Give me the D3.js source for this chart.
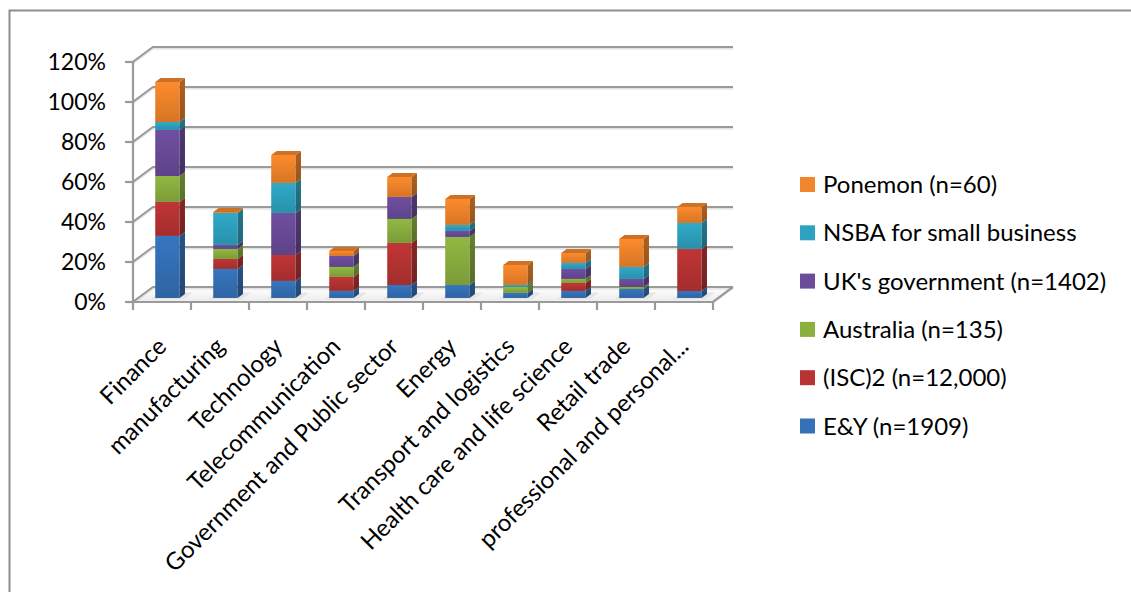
<!DOCTYPE html>
<html>
<head>
<meta charset="utf-8">
<script src="https://cdn.jsdelivr.net/npm/d3@7"></script>
<style>
  html, body { margin: 0; padding: 0; background: #fff; }
  svg { display: block; }
  text { font-family: Lato, "Open Sans", sans-serif; fill: #000; }
</style>
</head>
<body>
<svg id="chart" width="1131" height="592"></svg>
<script>
// Industry categories along the floor
const categories = [
  "Finance", "manufacturing", "Technology", "Telecommunication",
  "Government and Public sector", "Energy", "Transport and logistics",
  "Health care and life science", "Retail trade", "professional and personal..."
];

// Survey sources, stacked bottom to top
const seriesNames = [
  "E&Y (n=1909)", "(ISC)2 (n=12,000)", "Australia (n=135)",
  "UK's government (n=1402)", "NSBA for small business", "Ponemon (n=60)"
];

// Percent of respondents per industry, one array per source
const eyValues        = [31, 14.5, 8.5, 3.5, 6.5, 6.5, 2.5, 3.5, 4.5, 3.5];
const iscValues       = [17, 5, 13, 7, 21, 0, 0, 4, 0, 21];
const australiaValues = [13, 5, 0, 5, 12, 24, 3, 2, 1, 0];
const ukValues        = [23, 2, 21, 5.5, 11, 3, 0, 5, 4, 0];
const nsbaValues      = [4, 16, 15, 0, 0, 3, 1, 3, 6, 13];
const ponemonValues   = [20, 0.5, 14, 2.5, 10, 13, 10, 5, 14, 8];

const yTicks = [0, 20, 40, 60, 80, 100, 120];
const seriesColors = ["#3471b8", "#b93333", "#8bb03f", "#6a4c9a", "#2ea3c1", "#f2852a"];

const seriesValues = [eyValues, iscValues, australiaValues, ukValues, nsbaValues, ponemonValues];

// Rows for the stack layout
const rows = categories.map((c, i) => {
  const r = { category: c };
  seriesNames.forEach((s, k) => { r[s] = seriesValues[k][i]; });
  return r;
});
const stacked = d3.stack().keys(seriesNames)(rows);

const svg = d3.select("#chart");

// Outer chart frame
svg.append("path")
  .attr("d", "M9.5,600 L9.5,10.5 L1140,10.5")
  .attr("fill", "none").attr("stroke", "#8e8e8e").attr("stroke-width", 2);

// Front plane scales plus an oblique depth offset for the 3D look
const x = d3.scaleBand().domain(categories).range([133, 713]).padding(0);
const y = d3.scaleLinear().domain([0, 120]).range([302, 62]);
const DEPTH_X = 20, DEPTH_Y = 15;
const proj = (px, v, z) => [px + z * DEPTH_X, y(v) - z * DEPTH_Y];

const barFrac = 0.42;          // bar width as a share of the category step
const zFront = 0.27, zBack = 0.54;

const defs = svg.append("defs");

// Floor
const floorG = defs.append("linearGradient").attr("id", "floorFill")
  .attr("x1", 0).attr("y1", 0).attr("x2", 0).attr("y2", 1);
floorG.append("stop").attr("offset", 0).attr("stop-color", "#ffffff");
floorG.append("stop").attr("offset", 1).attr("stop-color", "#ececec");

const x0 = x.range()[0], x1 = x.range()[1];
const floorPts = [proj(x0, 0, 0), proj(x1, 0, 0), proj(x1, 0, 1), proj(x0, 0, 1)];
svg.append("polygon")
  .attr("points", floorPts.map(p => p.join(",")).join(" "))
  .attr("fill", "url(#floorFill)");

// Back wall and side wall gridlines
const grid = svg.append("g");
yTicks.forEach(t => {
  const a = proj(x0, t, 0), b = proj(x0, t, 1), c = proj(x1, t, 1);
  grid.append("path")
    .attr("d", `M${a[0]},${a[1]} L${b[0]},${b[1]} L${c[0]},${c[1]}`)
    .attr("fill", "none").attr("stroke", "#9a9a9a").attr("stroke-width", 2.2);
  grid.append("path")
    .attr("d", `M${a[0]},${a[1] + 1.8} L${b[0]},${b[1] + 1.8} L${c[0]},${c[1] + 1.8}`)
    .attr("fill", "none").attr("stroke", "#dcdcdc").attr("stroke-width", 1.2);
});

// Right floor edge
{
  const a = proj(x1, 0, 0), b = proj(x1, 0, 1);
  svg.append("line").attr("x1", a[0]).attr("y1", a[1]).attr("x2", b[0]).attr("y2", b[1])
    .attr("stroke", "#9a9a9a").attr("stroke-width", 2.2);
}

// Gradients per series
seriesColors.forEach((col, k) => {
  const g = defs.append("linearGradient").attr("id", "front" + k)
    .attr("x1", 0).attr("y1", 0).attr("x2", 0).attr("y2", 1);
  g.append("stop").attr("offset", 0).attr("stop-color", d3.color(col).brighter(0.12));
  g.append("stop").attr("offset", 1).attr("stop-color", d3.color(col).darker(0.35));
  const s = defs.append("linearGradient").attr("id", "side" + k)
    .attr("x1", 0).attr("y1", 0).attr("x2", 0).attr("y2", 1);
  s.append("stop").attr("offset", 0).attr("stop-color", d3.color(col).darker(0.9));
  s.append("stop").attr("offset", 1).attr("stop-color", d3.color(col).darker(1.3));
});

// Bar shadows on the floor
const shadowG = svg.append("g");
categories.forEach(c => {
  const bw = x.bandwidth() * barFrac;
  const left = x(c) + (x.bandwidth() - bw) / 2;
  const p = [proj(left - 3, 0, zFront - 0.08), proj(left + bw + 6, 0, zFront - 0.08),
             proj(left + bw + 6, 0, zBack + 0.1), proj(left - 3, 0, zBack + 0.1)];
  shadowG.append("polygon").attr("points", p.map(q => q.join(",")).join(" "))
    .attr("fill", "#d8d8d8").attr("opacity", 0.55);
});

// Bars: front face, side face, and a top cap on the highest segment
const barsG = svg.append("g");
const topIndex = categories.map((c, i) => {
  let last = -1;
  stacked.forEach((layer, k) => { if (layer[i][1] - layer[i][0] > 0) last = k; });
  return last;
});

stacked.forEach((layer, k) => {
  layer.forEach((d, i) => {
    if (d[1] - d[0] <= 0) return;
    const c = categories[i];
    const bw = x.bandwidth() * barFrac;
    const left = x(c) + (x.bandwidth() - bw) / 2;
    const right = left + bw;
    const g = barsG.append("g");
    const f = [proj(left, d[0], zFront), proj(right, d[0], zFront), proj(right, d[1], zFront), proj(left, d[1], zFront)];
    g.append("polygon").attr("points", f.map(q => q.join(",")).join(" "))
      .attr("fill", `url(#front${k})`);
    const s = [proj(right, d[0], zFront), proj(right, d[0], zBack), proj(right, d[1], zBack), proj(right, d[1], zFront)];
    g.append("polygon").attr("points", s.map(q => q.join(",")).join(" "))
      .attr("fill", `url(#side${k})`);
    if (k === topIndex[i]) {
      const t = [proj(left, d[1], zFront), proj(right, d[1], zFront), proj(right, d[1], zBack), proj(left, d[1], zBack)];
      g.append("polygon").attr("points", t.map(q => q.join(",")).join(" "))
        .attr("fill", d3.color(seriesColors[k]).darker(0.45));
    }
  });
});

// Front axes: vertical value axis and category axis with ticks
const axisG = svg.append("g").attr("stroke", "#9a9a9a").attr("stroke-width", 2.2).attr("fill", "none");
axisG.append("line").attr("x1", x0).attr("x2", x0).attr("y1", y(0)).attr("y2", y(120));
axisG.append("line").attr("x1", x0).attr("x2", x1).attr("y1", y(0)).attr("y2", y(0));
yTicks.forEach(t => {
  axisG.append("line").attr("x1", x0 - 8).attr("x2", x0).attr("y1", y(t)).attr("y2", y(t));
});
categories.concat([null]).forEach((c, i) => {
  const px = c === null ? x1 : x(c);
  axisG.append("line").attr("x1", px).attr("x2", px).attr("y1", y(0)).attr("y2", y(0) + 8);
});

// Value tick labels
svg.append("g").selectAll("text").data(yTicks).join("text")
  .attr("x", 106).attr("y", d => y(d)).attr("dy", "0.35em")
  .attr("text-anchor", "end").attr("font-size", 23)
  .text(d => d + "%");

// Category labels, rotated
svg.append("g").selectAll("text").data(categories).join("text")
  .attr("transform", d => `translate(${x(d) + x.bandwidth() / 2 + 6},${y(0) + 46}) rotate(-45)`)
  .attr("text-anchor", "end").attr("font-size", 24)
  .text(d => d);

// Legend, top entry is the top of the stack
const legendKeys = seriesNames.slice().reverse();
const ly = d3.scalePoint().domain(legendKeys).range([184.5, 426]);
const legend = svg.append("g").selectAll("g").data(legendKeys).join("g")
  .attr("transform", d => `translate(800,${ly(d)})`);
legend.append("rect").attr("x", 0).attr("y", -7.5).attr("width", 15).attr("height", 15)
  .attr("fill", d => seriesColors[seriesNames.indexOf(d)]);
legend.append("text").attr("x", 23).attr("dy", "0.36em").attr("font-size", 24)
  .text(d => d);
</script>
</body>
</html>
